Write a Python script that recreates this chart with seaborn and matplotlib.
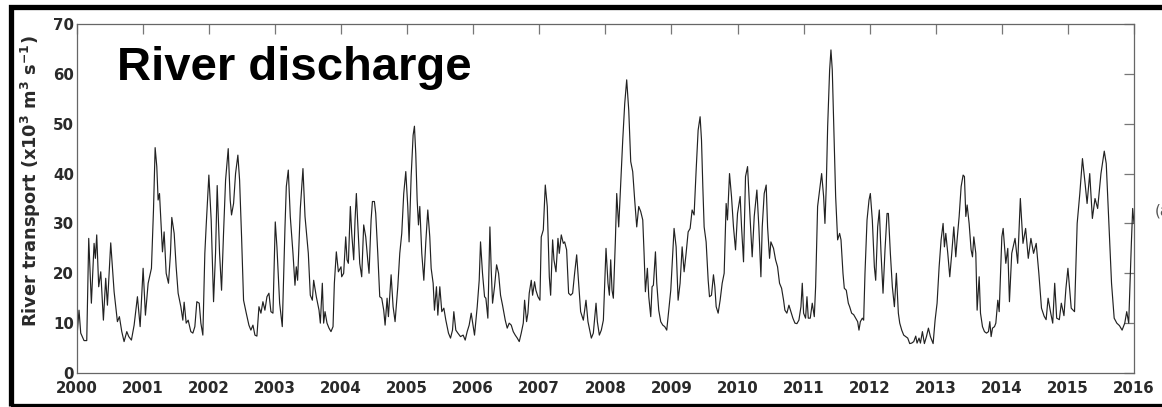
import numpy as np
import pandas as pd
import matplotlib
matplotlib.use("Agg")
import matplotlib.pyplot as plt
from matplotlib.patches import Rectangle
import seaborn as sns

# ---- data: decimal-year offsets within each 2-year block and discharge (x10^3 m3/s)
t_2000 = [0.000, 0.035, 0.061, 0.111, 0.152, 0.182, 0.222, 0.263, 0.283, 0.303, 0.333, 0.364, 0.404, 0.439,
          0.465, 0.515, 0.566, 0.616, 0.646, 0.682, 0.717, 0.758, 0.788, 0.828, 0.869, 0.919, 0.960,
          1.005, 1.040, 1.081, 1.131, 1.162, 1.187, 1.212, 1.232, 1.253, 1.273, 1.298, 1.323, 1.354, 1.389,
          1.419, 1.439, 1.475, 1.505, 1.535, 1.576, 1.606, 1.626, 1.657, 1.687, 1.727, 1.758, 1.788, 1.818,
          1.854, 1.879, 1.909, 1.939, 1.960]
v_2000 = [6.6, 12.6, 8.0, 6.5, 6.5, 27.0, 14.0, 26.0, 23.0, 27.7, 17.3, 20.3, 10.6, 19.0,
          13.6, 26.1, 16.3, 10.3, 11.3, 8.3, 6.3, 8.3, 7.3, 6.6, 9.6, 15.3, 9.3,
          21.0, 11.6, 18.0, 21.0, 32.7, 45.2, 41.4, 34.7, 36.0, 30.7, 24.3, 28.3, 20.0, 18.0,
          24.0, 31.2, 28.0, 21.3, 16.0, 13.3, 10.6, 14.2, 10.0, 10.6, 8.3, 8.0, 9.3, 14.3,
          14.0, 10.0, 7.6, 24.0, 29.7]

t_2002 = [0.000, 0.035, 0.071, 0.101, 0.126, 0.162, 0.192, 0.222, 0.253, 0.293, 0.323, 0.343, 0.374, 0.404,
          0.439, 0.465, 0.495, 0.525, 0.566, 0.606, 0.636, 0.667, 0.697, 0.727, 0.758, 0.788, 0.818, 0.848,
          0.879, 0.909, 0.939, 0.970,
          1.005, 1.030, 1.071, 1.111, 1.152, 1.172, 1.202, 1.232, 1.273, 1.303, 1.323, 1.343, 1.384, 1.424,
          1.455, 1.485, 1.505, 1.535, 1.566, 1.586, 1.626, 1.667, 1.687, 1.717, 1.737, 1.758, 1.788, 1.818,
          1.848, 1.879, 1.899, 1.929, 1.960]
v_2002 = [39.7, 30.7, 14.3, 24.0, 37.6, 24.0, 16.6, 28.0, 38.7, 45.0, 34.7, 31.7, 34.0, 40.0,
          43.7, 38.7, 27.3, 14.6, 12.0, 9.6, 8.6, 9.6, 7.6, 7.4, 13.3, 12.0, 14.3, 12.6,
          15.3, 16.0, 12.3, 12.0,
          30.3, 25.3, 14.0, 9.3, 29.3, 37.4, 40.7, 31.4, 24.0, 17.6, 21.3, 18.6, 33.0, 41.0,
          31.4, 27.0, 24.0, 15.6, 14.6, 18.6, 15.3, 12.6, 10.0, 18.0, 10.0, 12.3, 10.0, 9.0,
          8.3, 9.3, 18.0, 24.3, 20.3]

t_2004 = [0.000, 0.010, 0.040, 0.071, 0.091, 0.111, 0.141, 0.162, 0.192, 0.212, 0.232, 0.253, 0.283, 0.313,
          0.343, 0.374, 0.404, 0.424, 0.455, 0.475, 0.505, 0.525, 0.556, 0.586, 0.616, 0.646, 0.667, 0.697,
          0.717, 0.758, 0.788, 0.818, 0.859, 0.889, 0.919, 0.949, 0.980,
          1.010, 1.030, 1.061, 1.091, 1.111, 1.131, 1.152, 1.172, 1.192, 1.222, 1.253, 1.283, 1.313, 1.343,
          1.364, 1.394, 1.414, 1.444, 1.465, 1.495, 1.525, 1.556, 1.586, 1.626, 1.657, 1.687, 1.707, 1.737,
          1.768, 1.808, 1.848, 1.879, 1.909, 1.939, 1.970]
v_2004 = [21.3, 19.3, 20.0, 27.3, 22.7, 22.0, 33.4, 28.0, 22.7, 30.7, 36.0, 30.0, 22.0, 19.3,
          29.7, 27.3, 22.7, 20.0, 30.7, 34.4, 34.4, 32.0, 24.0, 15.3, 15.0, 12.6, 9.6, 15.0,
          11.3, 19.7, 13.3, 10.3, 17.3, 24.0, 28.0, 36.0, 40.4,
          33.4, 26.3, 39.4, 47.7, 49.5, 44.0, 34.7, 29.7, 33.4, 24.0, 18.6, 26.3, 32.7, 27.3,
          21.0, 18.0, 12.6, 17.3, 11.6, 17.3, 12.3, 13.0, 10.6, 8.0, 7.0, 8.6, 12.3, 8.6,
          8.0, 7.3, 7.6, 6.6, 8.3, 9.6, 12.0]

t_2006 = [0.000, 0.020, 0.061, 0.091, 0.111, 0.141, 0.172, 0.192, 0.222, 0.253, 0.273, 0.293, 0.323, 0.354,
          0.384, 0.414, 0.444, 0.485, 0.515, 0.545, 0.576, 0.606, 0.636, 0.667, 0.697, 0.727, 0.758, 0.778,
          0.808, 0.828, 0.848, 0.879, 0.899, 0.929, 0.949, 0.980,
          1.010, 1.030, 1.061, 1.091, 1.121, 1.152, 1.172, 1.202, 1.222, 1.253, 1.283, 1.303, 1.333, 1.364,
          1.384, 1.414, 1.444, 1.475, 1.505, 1.535, 1.566, 1.596, 1.626, 1.667, 1.707, 1.737, 1.788, 1.818,
          1.859, 1.879, 1.909, 1.939, 1.970]
v_2006 = [9.3, 7.6, 13.3, 18.6, 26.3, 20.0, 15.3, 15.0, 11.0, 29.3, 20.7, 14.0, 17.3, 21.7,
          20.0, 15.6, 13.6, 10.6, 9.0, 10.0, 9.6, 8.3, 7.6, 7.0, 6.3, 8.0, 10.0, 14.6,
          10.3, 12.0, 16.0, 18.6, 15.6, 18.3, 16.6, 15.3,
          14.6, 27.3, 28.7, 37.7, 33.4, 19.3, 15.6, 26.7, 22.7, 20.3, 27.0, 24.0, 27.7, 26.0,
          26.3, 24.7, 16.0, 15.6, 16.0, 20.0, 23.7, 18.0, 12.3, 10.6, 14.6, 10.3, 7.0, 8.0,
          14.0, 10.3, 7.6, 8.6, 10.6]

t_2008 = [0.010, 0.040, 0.061, 0.081, 0.101, 0.121, 0.152, 0.172, 0.202, 0.232, 0.263, 0.293, 0.323, 0.354,
          0.384, 0.414, 0.444, 0.475, 0.505, 0.535, 0.566, 0.586, 0.606, 0.636, 0.657, 0.687, 0.707, 0.727,
          0.758, 0.778, 0.808, 0.838, 0.869, 0.899, 0.929, 0.960, 0.990,
          1.020, 1.040, 1.071, 1.101, 1.131, 1.162, 1.192, 1.222, 1.253, 1.283, 1.313, 1.343, 1.374, 1.404,
          1.434, 1.455, 1.475, 1.495, 1.525, 1.556, 1.576, 1.606, 1.636, 1.657, 1.677, 1.707, 1.737, 1.768,
          1.798, 1.828, 1.848, 1.879, 1.909, 1.939, 1.970]
v_2008 = [25.0, 18.0, 15.6, 22.7, 16.6, 15.0, 26.7, 36.0, 29.3, 38.0, 46.7, 54.0, 58.8, 52.7,
          42.4, 40.4, 34.7, 29.3, 33.4, 32.4, 30.7, 24.0, 16.3, 21.0, 15.3, 11.3, 17.3, 17.6,
          24.3, 18.0, 12.6, 10.3, 9.6, 9.3, 8.6, 12.6, 16.6,
          24.0, 29.0, 25.3, 14.6, 18.0, 25.3, 20.3, 24.0, 28.3, 29.0, 32.7, 31.7, 40.7, 48.7,
          51.4, 46.7, 37.4, 29.3, 26.3, 18.6, 15.3, 15.6, 19.7, 17.3, 13.3, 12.0, 14.6, 18.0,
          20.0, 34.0, 30.7, 40.0, 35.4, 29.3, 24.7]

t_2010 = [0.000, 0.040, 0.061, 0.091, 0.121, 0.152, 0.192, 0.222, 0.253, 0.293, 0.323, 0.354, 0.374, 0.404,
          0.434, 0.455, 0.485, 0.505, 0.545, 0.576, 0.606, 0.636, 0.667, 0.697, 0.717, 0.747, 0.778, 0.808,
          0.838, 0.869, 0.899, 0.929, 0.960, 0.980,
          1.000, 1.030, 1.051, 1.071, 1.101, 1.131, 1.162, 1.182, 1.212, 1.242, 1.273, 1.303, 1.323, 1.343,
          1.364, 1.394, 1.414, 1.434, 1.465, 1.485, 1.515, 1.545, 1.566, 1.596, 1.616, 1.646, 1.677, 1.697,
          1.727, 1.758, 1.788, 1.818, 1.838, 1.859, 1.889, 1.909, 1.929, 1.960, 1.990]
v_2010 = [32.0, 35.4, 29.3, 22.3, 39.4, 41.4, 30.7, 23.3, 31.4, 36.7, 29.3, 19.3, 29.3, 36.0,
          37.7, 29.3, 23.0, 26.3, 25.0, 22.7, 21.3, 18.0, 17.0, 14.6, 12.6, 12.0, 13.6, 12.3,
          11.0, 10.0, 9.9, 10.6, 13.3, 18.0,
          12.0, 11.0, 15.3, 11.0, 11.0, 14.0, 11.3, 17.3, 33.4, 36.7, 40.0, 35.4, 30.0, 37.4,
          49.4, 60.8, 64.8, 60.8, 45.4, 35.4, 26.7, 28.0, 26.7, 20.0, 17.0, 16.6, 14.0, 13.3,
          12.0, 11.7, 11.0, 10.3, 8.6, 10.3, 11.0, 10.6, 20.0, 30.7, 34.7]

t_2012 = [0.010, 0.040, 0.071, 0.091, 0.121, 0.146, 0.172, 0.202, 0.232, 0.263, 0.283, 0.313, 0.343, 0.374,
          0.404, 0.434, 0.455, 0.485, 0.515, 0.545, 0.576, 0.606, 0.636, 0.667, 0.697, 0.717, 0.747, 0.768,
          0.798, 0.828, 0.859, 0.889, 0.919, 0.960,
          0.990, 1.020, 1.051, 1.081, 1.111, 1.131, 1.152, 1.182, 1.212, 1.242, 1.273, 1.303, 1.323, 1.354,
          1.384, 1.414, 1.434, 1.455, 1.475, 1.505, 1.535, 1.556, 1.576, 1.606, 1.626, 1.657, 1.677, 1.707,
          1.737, 1.768, 1.798, 1.818, 1.838, 1.859, 1.889, 1.909, 1.939, 1.960, 1.980]
v_2012 = [36.0, 30.7, 21.3, 18.6, 29.3, 32.7, 24.0, 16.0, 24.7, 32.0, 32.0, 24.0, 17.3, 13.3,
          20.0, 12.0, 10.0, 8.6, 7.6, 7.3, 7.0, 5.9, 6.0, 6.3, 7.4, 6.0, 7.0, 6.0,
          8.3, 5.9, 7.3, 9.0, 7.3, 5.9,
          10.6, 14.0, 21.3, 26.7, 30.0, 25.3, 28.0, 24.0, 19.3, 24.0, 29.3, 23.3, 26.7, 31.4,
          37.4, 39.7, 39.4, 31.4, 33.7, 30.0, 24.7, 23.3, 27.3, 24.0, 12.6, 19.3, 12.0, 9.3,
          8.3, 8.0, 8.3, 10.3, 7.3, 9.0, 9.3, 10.0, 14.6, 12.3, 20.0]

t_2014 = [0.000, 0.020, 0.060, 0.090, 0.115, 0.150, 0.200, 0.240, 0.280, 0.320, 0.360, 0.400, 0.440, 0.480,
          0.520, 0.560, 0.600, 0.640, 0.670, 0.700, 0.740, 0.770, 0.800, 0.830, 0.870, 0.900, 0.940, 0.970,
          1.000, 1.050, 1.100, 1.140, 1.180, 1.220, 1.260, 1.290, 1.330, 1.370, 1.410, 1.450, 1.500, 1.550,
          1.580, 1.620, 1.660, 1.700, 1.740, 1.780, 1.820, 1.860, 1.890, 1.920, 1.960, 1.980, 2.000]
v_2014 = [27.3, 29.0, 22.0, 25.0, 14.3, 24.0, 27.0, 22.0, 35.0, 26.0, 29.0, 23.0, 27.0, 24.0,
          26.0, 20.0, 13.0, 11.4, 10.7, 15.0, 12.0, 10.0, 18.0, 11.0, 10.7, 14.0, 11.5, 17.0,
          21.0, 13.0, 12.3, 30.0, 36.0, 43.0, 38.0, 34.0, 40.0, 31.0, 35.0, 33.0, 40.0, 44.5,
          42.0, 30.0, 18.0, 11.0, 10.0, 9.5, 8.6, 10.0, 12.3, 10.0, 26.0, 33.0, 30.0]

block_starts = [2000, 2002, 2004, 2006, 2008, 2010, 2012, 2014]
block_t = [t_2000, t_2002, t_2004, t_2006, t_2008, t_2010, t_2012, t_2014]
block_v = [v_2000, v_2002, v_2004, v_2006, v_2008, v_2010, v_2012, v_2014]

years = np.concatenate([np.array(t) + s for s, t in zip(block_starts, block_t)])
values = np.concatenate([np.array(v, dtype=float) for v in block_v])
df = pd.DataFrame({"year": years, "discharge": values})

x_ticks = list(range(2000, 2017))
y_ticks = list(range(0, 71, 10))
title_text = "River discharge"
ylabel_text = r"River transport (x10$^3$ m$^3$ s$^{-1}$)"

# ---- style
sns.set_style("white")
plt.rcParams["font.family"] = ["DejaVu Sans"]
plt.rcParams["mathtext.default"] = "bf"

W, H = 1162, 407
fig = plt.figure(figsize=(W / 100, H / 100), dpi=100)
ax = fig.add_axes([76.7 / W, 1 - 373 / H, (1134 - 76.7) / W, (373 - 24) / H])

sns.lineplot(data=df, x="year", y="discharge", ax=ax, color="#222222",
             linewidth=0.85, estimator=None, sort=False)

ax.set_xlim(2000, 2016)
ax.set_ylim(0, 70)
ax.set_xticks(x_ticks)
ax.set_yticks(y_ticks)
ax.set_xticklabels([str(v) for v in x_ticks], fontweight="bold", fontsize=10.8, color="#2a2a2a")
ax.set_yticklabels([str(v) for v in y_ticks], fontweight="bold", fontsize=10.8, color="#2a2a2a")
ax.tick_params(axis="both", direction="in", length=7.2, width=0.9, color="#777777",
               top=True, right=True)
ax.tick_params(axis="x", pad=6)
ax.tick_params(axis="y", pad=2)
for sp in ax.spines.values():
    sp.set_color("#666666")
    sp.set_linewidth(0.9)

ax.set_xlabel("")
ax.set_ylabel(ylabel_text, fontweight="bold", fontsize=12.8, color="#2a2a2a")
ax.yaxis.set_label_coords(-34 / (1134 - 76.7), 0.55)

ax.text(117 / W, 1 - 80 / H, title_text, transform=fig.transFigure,
        fontsize=34, fontweight="bold", family="Liberation Sans", color="black",
        ha="left", va="baseline")

# panel label partly cut off at the right edge
fig.text(1155 / W, 1 - 216 / H, "(a)", fontsize=11, color="#555555", ha="left", va="baseline")

# black frame around the figure
fig.add_artist(Rectangle((10.5 / W, 0.0015), 1.2, 1 - 6.5 / H - 0.0015,
                         transform=fig.transFigure, fill=False, edgecolor="black",
                         linewidth=3.8, clip_on=False))

fig.savefig("out.png", dpi=100)
